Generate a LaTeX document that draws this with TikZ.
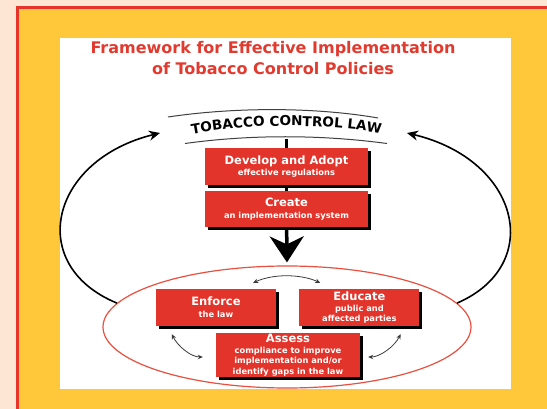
\documentclass[tikz,border=0pt]{standalone}
\usepackage{fontspec}
\setmainfont{DejaVu Sans}
\usetikzlibrary{positioning,shadows,arrows.meta,decorations.text,shapes.geometric}

\definecolor{peach}{HTML}{FDE6D3}
\definecolor{gold}{HTML}{FFC83B}
\definecolor{framered}{HTML}{E7342B}
\definecolor{titlered}{HTML}{E13A2F}
\definecolor{boxred}{HTML}{E2342A}
\definecolor{ringred}{HTML}{E9503F}
\definecolor{arrowgray}{HTML}{3A3A3A}

\newcommand\boxhead{\fontsize{11.5}{10}\selectfont\bfseries}
\newcommand\boxsub{\fontsize{8.3}{10.2}\selectfont\bfseries}
\newcommand\lawfont{\fontsize{13.6}{14}\selectfont\bfseries}

\tikzset{
  titletext/.style={text=titlered, align=center, font=\fontsize{16}{21}\selectfont\bfseries},
  redbox/.style={rectangle, fill=boxred, text=white, align=center, inner sep=1pt, font=\boxsub,
    drop shadow={shadow xshift=3pt, shadow yshift=-3pt, fill=black, opacity=1}},
  lawline/.style={draw=black!75, line width=1pt},
  stem/.style={draw=black, line width=3.5pt},
  ring/.style={ellipse, draw=ringred, line width=1.2pt, minimum width=368pt, minimum height=122pt},
  cycleline/.style={draw=black, line width=1.6pt, -{Stealth[length=11pt,width=10pt]}},
  link/.style={draw=arrowgray, line width=0.8pt, {Stealth[length=5pt,width=4.5pt]}-{Stealth[length=5pt,width=4.5pt]}}
}

\begin{document}
\begin{tikzpicture}[x=1pt,y=-1pt]
\useasboundingbox (0,0) rectangle (547,409);
% background, frame and panel
\fill[peach] (0,0) rectangle (547,409);
\fill[framered] (16,6) rectangle (547,409);
\fill[gold] (19,9) rectangle (547,409);
\fill[white] (60,38) rectangle (511,389);

\node[titletext] (title) at (273,58) {Framework for Effective Implementation\\of Tobacco Control Policies};

% law banner
\draw[lawline] (168,117) .. controls (235,107) and (315,107) .. (378,118);
\draw[lawline] (185,143.5) .. controls (250,134.5) and (320,134.5) .. (387,143.5);
\path[decorate, decoration={text along path, text align=center,
  text={|\lawfont|TOBACCO CONTROL LAW}}] (188,135) .. controls (250,123) and (320,123) .. (385,134);
\coordinate (law) at (286.5,139);
\coordinate (lawleft) at (160,133);
\coordinate (lawright) at (407,133);

% stages
\node[ring] (ring) at (287,327) {};
\node[redbox, minimum width=163pt, minimum height=37pt] (develop) at (286.5,166.5)
  {{\boxhead Develop and Adopt}\\[1.5pt]effective regulations};
\node[redbox, minimum width=163pt, minimum height=36pt, below=6pt of develop] (create)
  {{\boxhead Create}\\[1.5pt]an implementation system};
\node[redbox, minimum width=120pt, minimum height=37pt] (enforce) at (216,307.5)
  {{\boxhead Enforce}\\[1.5pt]the law};
\node[redbox, minimum width=120pt, minimum height=37pt, right=23pt of enforce] (educate)
  {{\boxhead Educate}\\[1pt]public and\\affected parties};
\node[redbox, minimum width=144pt, minimum height=44pt] (assess) at (288,355)
  {{\boxhead Assess}\\[1pt]compliance to improve\\implementation and/or\\identify gaps in the law};

% connectors
\draw[stem] (law) -- (develop);
\draw[stem] (develop) -- (create);
\draw[stem, shorten >=3pt, -{Stealth[length=26pt,width=34pt,inset=8pt]}] (create) -- (ring.north);
\draw[cycleline] (ring.172) .. controls (25,265) and (50,160) .. (lawleft);
\draw[cycleline] (ring.8) .. controls (545,265) and (520,160) .. (lawright);
\draw[link] ([shift={(-23,-6)}]enforce.north east) .. controls +(20,-9) and +(-20,-9) .. ([shift={(21,-6)}]educate.north west);
\draw[link] ([shift={(16,8)}]enforce.south west) .. controls +(6,12) and +(-12,0) .. ([shift={(-13,2)}]assess.west);
\draw[link] ([shift={(8,2)}]assess.east) .. controls +(12,0) and +(-6,12) .. ([shift={(-19,8)}]educate.south east);
\end{tikzpicture}
\end{document}
